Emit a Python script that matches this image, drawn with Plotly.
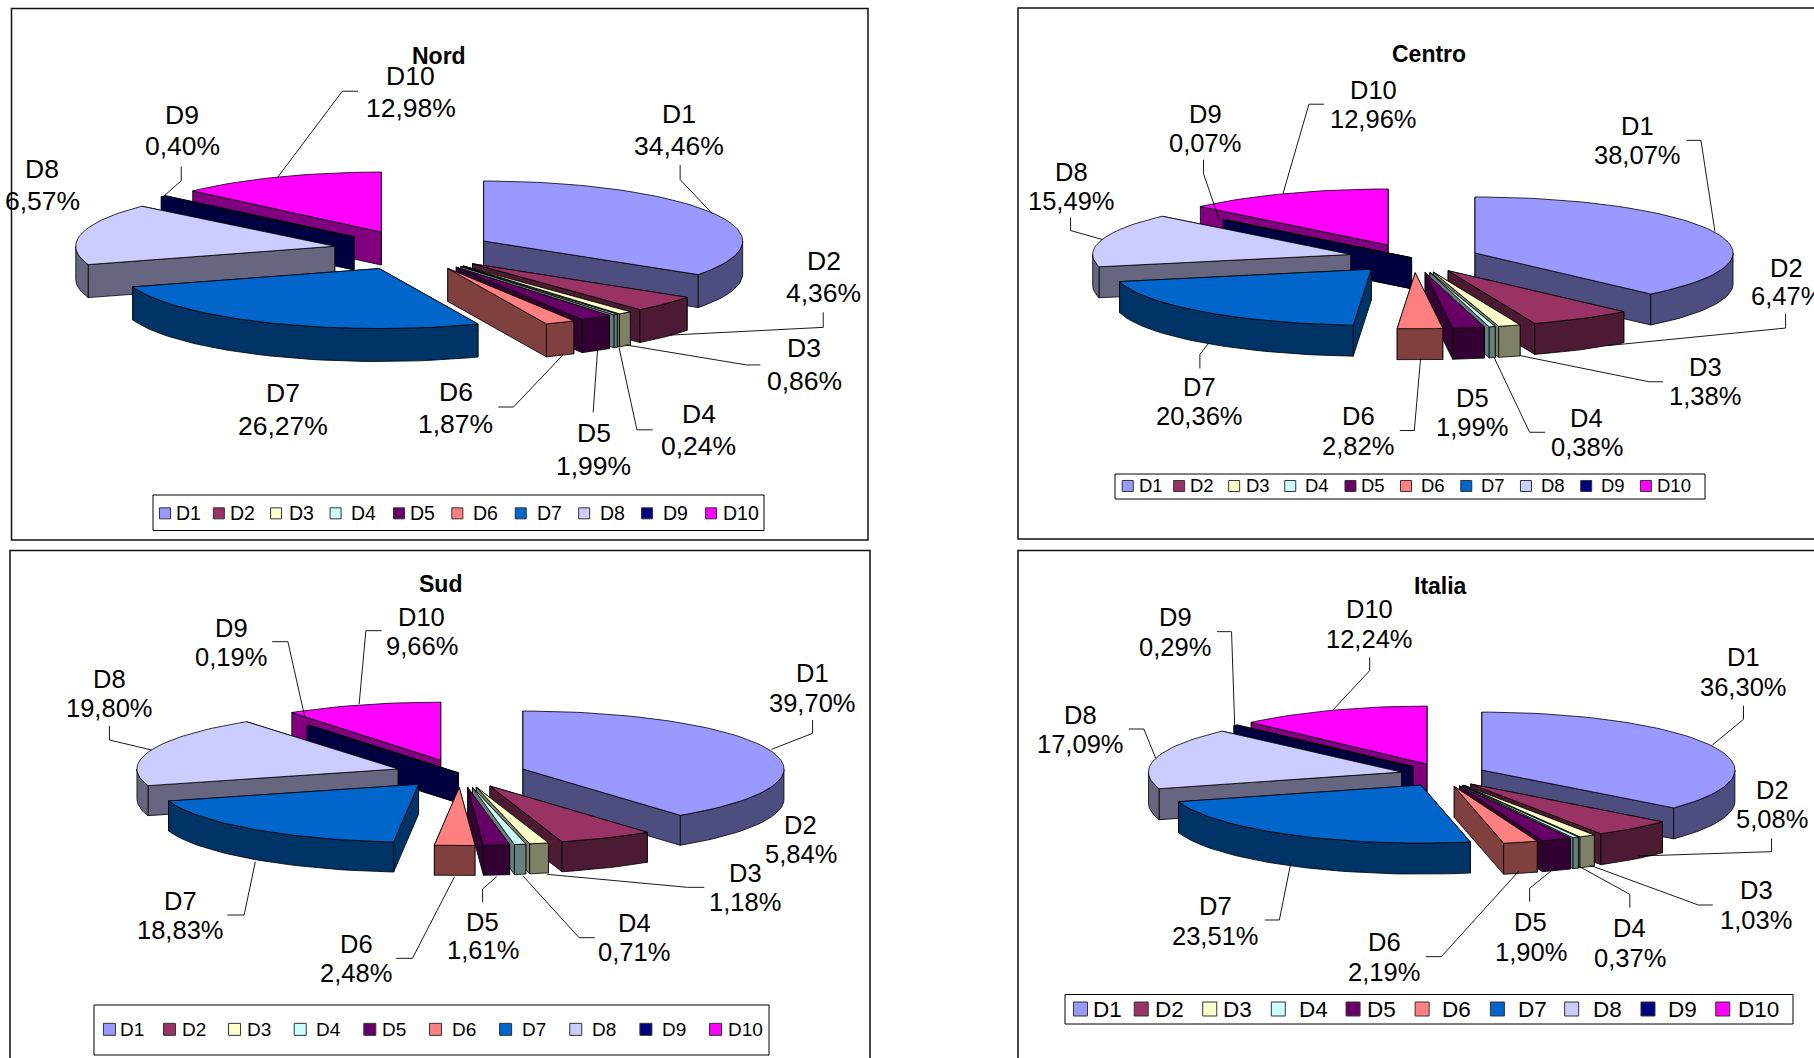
import math
import plotly.graph_objects as go

# ---------- data ----------
categories = ["D1", "D2", "D3", "D4", "D5", "D6", "D7", "D8", "D9", "D10"]
nord = [34.46, 4.36, 0.86, 0.24, 1.99, 1.87, 26.27, 16.57, 0.40, 12.98]
centro = [38.07, 6.47, 1.38, 0.38, 1.99, 2.82, 20.36, 15.49, 0.07, 12.96]
sud = [39.70, 5.84, 1.18, 0.71, 1.61, 2.48, 18.83, 19.80, 0.19, 9.66]
italia = [36.30, 5.08, 1.03, 0.37, 1.90, 2.19, 23.51, 17.09, 0.29, 12.24]

top_colors = ["#9999FF", "#993366", "#FFFFCC", "#CCFFFF", "#660066",
              "#FF8080", "#0066CC", "#CCCCFF", "#000080", "#FF00FF"]
side_colors = ["#4D4D80", "#4D1A33", "#808066", "#668080", "#330033",
               "#804040", "#003366", "#666680", "#000040", "#800080"]

FONT = "Liberation Sans, Arial, sans-serif"
W, H = 1814, 1058

# Layout of each panel. Label/leader tables are in crop coordinates (zx, zy),
# converted through sx/ox and sy/oy to page pixels.
panels = [
    dict(name="Nord", values=nord, frame=(11.5, 8.5, 868, 540), title=(439, 56),
         pie=(413, 250.4, 259, 60, 80, 20, 33), pull={},
         sx=1.782, ox=0, sy=2.85, oy=0, lab_size=26.5, title_size=23,
         legend_box=(153, 495, 764, 530.5), legend_size=19.5, swatch=11, legend_y=1463,
         swatch_x=[294, 390, 492, 598, 711, 815, 928, 1041, 1153, 1267],
         text_x=[336, 432, 537, 648, 753, 866, 979, 1091, 1204, 1320],
         label_override={7: "6,57%"},
         labels=[(1210, 325, 415), (1468, 743, 835), (1433, 993, 1085), (1245, 1180, 1270),
                 (1058, 1235, 1328), (812, 1117, 1207), (505, 1120, 1213), (75, 482, 572),
                 (325, 327, 417), (732, 217, 307)],
         leaders=[[(1212, 470), (1212, 512), (1270, 610)],
                  [(1467, 890), (1467, 933), (1195, 955)],
                  [(1355, 1040), (1330, 1040), (1115, 983)],
                  [(1163, 1225), (1135, 1225), (1103, 990)],
                  [(1057, 1175), (1065, 995)],
                  [(888, 1160), (915, 1160), (1003, 1012)],
                  [(323, 475), (323, 515), (290, 562)],
                  [(638, 260), (610, 260), (495, 505)]]),
    dict(name="Centro", values=centro, frame=(1018, 8, 1830, 539), title=(1429, 54),
         pie=(1414, 258.3, 258, 56, 65.6, 14.5, 31), pull={8: 0.05},
         sx=1.926, ox=1000, sy=2.85, oy=0, lab_size=25.5, title_size=23,
         legend_box=(1115, 474, 1705, 499), legend_size=18.5, swatch=11, legend_y=1385,
         swatch_x=[246, 345, 451, 559, 675, 782, 898, 1013, 1129, 1244],
         text_x=[290, 389, 496, 611, 718, 834, 949, 1065, 1181, 1299],
         label_override={},
         labels=[(1227, 360, 443), (1515, 765, 845), (1358, 1047, 1130), (1130, 1192, 1275),
                 (910, 1135, 1217), (690, 1187, 1270), (385, 1103, 1185), (137, 490, 572),
                 (395, 325, 407), (720, 257, 340)],
         leaders=[[(1322, 400), (1350, 400), (1377, 660)],
                  [(1513, 895), (1513, 935), (1170, 985)],
                  [(1277, 1088), (1250, 1088), (1000, 1013)],
                  [(1050, 1232), (1020, 1232), (952, 1020)],
                  [(770, 1227), (798, 1227), (810, 1022)],
                  [(385, 1050), (385, 1010), (402, 978)],
                  [(136, 620), (136, 657), (198, 683)],
                  [(392, 455), (392, 495), (422, 625)],
                  [(624, 297), (595, 297), (545, 552)]]),
    dict(name="Sud", values=sud, frame=(10, 550.5, 870, 1070), title=(440, 584),
         pie=(460.4, 773.5, 261, 58, 66, 14, 30), pull={8: 0.05},
         sx=1.782, ox=0, sy=3.0, oy=540, lab_size=25.5, title_size=23,
         legend_box=(94, 1005, 769, 1055), legend_size=19, swatch=12, legend_y=1468,
         swatch_x=[195, 302, 418, 535, 659, 776, 901, 1026, 1151, 1275],
         text_x=[236, 345, 461, 586, 702, 827, 951, 1077, 1201, 1328],
         label_override={},
         labels=[(1447, 400, 488), (1427, 855, 942), (1328, 1000, 1087), (1130, 1150, 1237),
                 (860, 1145, 1230), (635, 1213, 1300), (322, 1083, 1170), (195, 418, 505),
                 (412, 265, 352), (752, 232, 318)],
         leaders=[[(1448, 540), (1448, 580), (1375, 628)],
                  [(1255, 1042), (1225, 1042), (975, 1003)],
                  [(1060, 1193), (1032, 1193), (932, 1008)],
                  [(860, 1087), (860, 1047), (885, 1010)],
                  [(706, 1255), (735, 1255), (810, 1010)],
                  [(405, 1125), (435, 1125), (455, 965)],
                  [(195, 558), (195, 600), (270, 630)],
                  [(485, 305), (513, 305), (543, 530)],
                  [(680, 272), (652, 272), (640, 492)]]),
    dict(name="Italia", values=italia, frame=(1018, 550.5, 1830, 1070), title=(1440, 586),
         pie=(1443, 775, 253, 58, 42.8, 11.8, 31), pull={},
         sx=1.926, ox=1000, sy=3.0, oy=540, lab_size=25.5, title_size=23,
         legend_box=(1065, 994.5, 1793, 1024), legend_size=22.5, swatch=14, legend_y=1407,
         swatch_x=[155, 272, 404, 536, 680, 813, 958, 1101, 1248, 1392],
         text_x=[207, 327, 458, 603, 735, 880, 1025, 1170, 1315, 1460],
         label_override={},
         labels=[(1432, 352, 440), (1487, 750, 838), (1457, 1050, 1140), (1213, 1165, 1253),
                 (1022, 1147, 1235), (740, 1207, 1295), (415, 1098, 1187), (155, 525, 612),
                 (338, 232, 320), (712, 208, 297)],
         leaders=[[(1432, 497), (1432, 538), (1372, 615)],
                  [(1486, 895), (1486, 935), (1230, 948)],
                  [(1373, 1095), (1345, 1095), (1135, 975)],
                  [(1213, 1103), (1213, 1063), (1113, 977)],
                  [(1020, 1085), (1020, 1045), (1070, 982)],
                  [(820, 1250), (850, 1250), (1000, 992)],
                  [(510, 1140), (538, 1140), (560, 970)],
                  [(248, 567), (277, 567), (300, 655)],
                  [(418, 275), (446, 275), (452, 555)],
                  [(712, 352), (712, 392), (640, 512)]]),
]


def px(x):
    return x / W


def py(y):
    return 1 - y / H


def rim(cx, cy, rx, ry, a):
    return cx + rx * math.sin(a), cy - ry * math.cos(a)


def arc_angles(a0, a1, step=math.radians(2)):
    n = max(2, int((a1 - a0) / step) + 2)
    return [a0 + (a1 - a0) * i / (n - 1) for i in range(n)]


fig = go.Figure()
shapes, annotations = [], []
layout_extra = {}
OUTLINE = dict(color="#000000", width=0.8)


def add_face(xs, ys, color, xa, ya, name):
    fig.add_trace(go.Scatter(x=xs, y=ys, xaxis=xa, yaxis=ya, mode="lines", fill="toself",
                             fillcolor=color, line=OUTLINE, showlegend=False,
                             name=name, hoverinfo="name"))


for i, p in enumerate(panels):
    s = "" if i == 0 else str(i + 1)
    xa, ya = "x" + s, "y" + s
    fx0, fy0, fx1, fy1 = p["frame"]
    vis_x1, vis_y1 = min(fx1, W), min(fy1, H)

    # one pair of axes per panel, scaled 1 unit = 1 page pixel
    layout_extra["xaxis" + s] = dict(domain=[px(fx0), px(vis_x1)], range=[fx0, vis_x1], visible=False,
                                     anchor=ya, fixedrange=True)
    layout_extra["yaxis" + s] = dict(domain=[py(vis_y1), py(fy0)], range=[vis_y1, fy0], visible=False,
                                     anchor=xa, fixedrange=True)

    cx0, cy0, rx, ry, ex, ey, h = p["pie"]
    vals = p["values"]
    total = sum(vals)

    wedges = []
    cum = 0.0
    for k, v in enumerate(vals):
        a0 = 2 * math.pi * cum / total
        a1 = 2 * math.pi * (cum + v) / total
        cum += v
        mid = (a0 + a1) / 2
        pull = p["pull"].get(k, 1.0)
        # painting order follows the depth of the fully pulled slice
        depth = cy0 - ey * math.cos(mid)
        wedges.append((depth, k, a0, a1, cx0 + pull * ex * math.sin(mid), cy0 - pull * ey * math.cos(mid)))

    for _, k, a0, a1, cx, cy in sorted(wedges):
        # radial side faces, the one further back first
        for a in sorted((a0, a1), key=lambda t: -math.cos(t)):
            rxp, ryp = rim(cx, cy, rx, ry, a)
            add_face([cx, rxp, rxp, cx, cx], [cy, ryp, ryp + h, cy + h, cy], side_colors[k], xa, ya, categories[k])
        # outer wall: only the part of the rim that faces the viewer
        f0, f1 = max(a0, math.pi / 2), min(a1, 3 * math.pi / 2)
        if f1 > f0:
            pts = [rim(cx, cy, rx, ry, a) for a in arc_angles(f0, f1)]
            wx = [q[0] for q in pts] + [q[0] for q in reversed(pts)] + [pts[0][0]]
            wy = [q[1] for q in pts] + [q[1] + h for q in reversed(pts)] + [pts[0][1]]
            add_face(wx, wy, side_colors[k], xa, ya, categories[k])
        # top face
        pts = [rim(cx, cy, rx, ry, a) for a in arc_angles(a0, a1)]
        add_face([cx] + [q[0] for q in pts] + [cx], [cy] + [q[1] for q in pts] + [cy], top_colors[k], xa, ya, categories[k])

    sx, ox, sy, oy = p["sx"], p["ox"], p["sy"], p["oy"]

    # legend: box, swatches and labels
    lx0, ly0, lx1, ly1 = p["legend_box"]
    shapes.append(dict(type="rect", xref="paper", yref="paper", x0=px(lx0), x1=px(lx1), y0=py(ly0), y1=py(ly1),
                       line=dict(color="#000000", width=1), fillcolor="#FFFFFF", layer="below"))
    ly = oy + p["legend_y"] / sy
    for k, c in enumerate(categories):
        fig.add_trace(go.Scatter(x=[ox + p["swatch_x"][k] / sx], y=[ly], xaxis=xa, yaxis=ya, mode="markers", name=c,
                                 marker=dict(symbol="square", size=p["swatch"], color=top_colors[k],
                                             line=dict(color="#333333", width=1)),
                                 showlegend=False, hoverinfo="name"))
        annotations.append(dict(xref="paper", yref="paper", x=px(ox + p["text_x"][k] / sx), y=py(ly),
                                showarrow=False, text=c, xanchor="center", yanchor="middle",
                                font=dict(family=FONT, size=p["legend_size"], color="#000000")))

    # frame: sides that run off the page are simply cut by the page edge
    shapes.append(dict(type="rect", xref="paper", yref="paper", x0=px(fx0), x1=px(fx1), y0=py(fy0), y1=py(fy1),
                       line=dict(color="#111111", width=1.5), layer="below"))

    # chart title
    annotations.append(dict(xref="paper", yref="paper", x=px(p["title"][0]), y=py(p["title"][1]), showarrow=False,
                            text="<b>%s</b>" % p["name"], xanchor="center", yanchor="middle",
                            font=dict(family=FONT, size=p["title_size"], color="#000000")))

    # data labels: category line and percentage line
    for k, (zx, zy1, zy2) in enumerate(p["labels"]):
        pct = p["label_override"].get(k, ("%.2f" % vals[k]).replace(".", ",") + "%")
        for txt, zy in ((categories[k], zy1), (pct, zy2)):
            annotations.append(dict(xref="paper", yref="paper", x=px(ox + zx / sx), y=py(oy + zy / sy),
                                    showarrow=False, text=txt, xanchor="center", yanchor="middle",
                                    font=dict(family=FONT, size=p["lab_size"], color="#000000")))

    # leader lines
    for line in p["leaders"]:
        path = "M " + " L ".join("%.5f,%.5f" % (px(ox + a / sx), py(oy + b / sy)) for a, b in line)
        shapes.append(dict(type="path", xref="paper", yref="paper", path=path, line=dict(color="#000000", width=0.9)))

fig.update_layout(width=W, height=H, autosize=False, margin=dict(l=0, r=0, t=0, b=0, pad=0),
                  paper_bgcolor="#FFFFFF", plot_bgcolor="rgba(0,0,0,0)", showlegend=False,
                  shapes=shapes, annotations=annotations, **layout_extra)

fig.write_html("out.html", config={"displayModeBar": False},
               post_script="document.body.style.margin='0';document.body.style.overflow='hidden';")
